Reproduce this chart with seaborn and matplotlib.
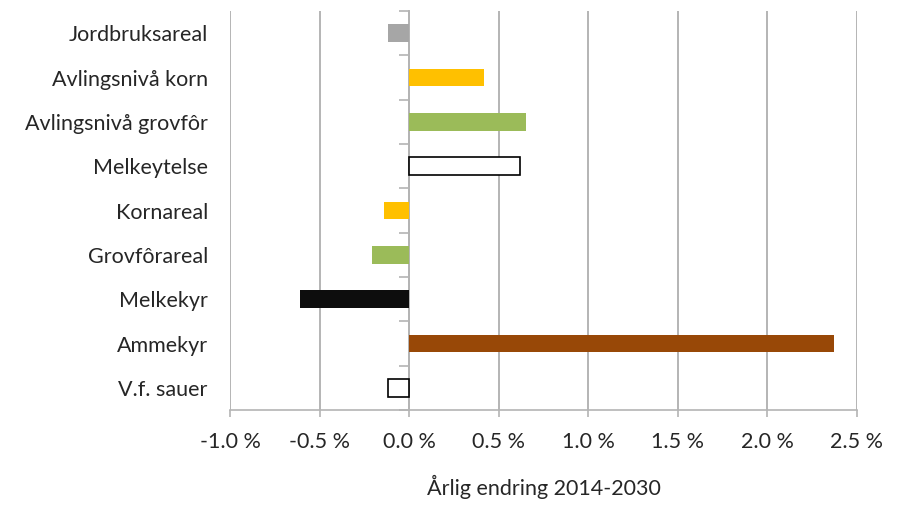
import matplotlib
matplotlib.use("Agg")
import matplotlib.pyplot as plt
import seaborn as sns
import pandas as pd
import numpy as np

categories = ["Jordbruksareal", "Avlingsnivå korn", "Avlingsnivå grovfôr", "Melkeytelse",
              "Kornareal", "Grovfôrareal", "Melkekyr", "Ammekyr", "V.f. sauer"]
values = [-0.12, 0.42, 0.65, 0.62, -0.14, -0.21, -0.61, 2.37, -0.12]
colors = ["#A6A6A6", "#FFC000", "#9BBB59", "#FFFFFF", "#FFC000", "#9BBB59", "#0D0D0D", "#984807", "#FFFFFF"]
outlined = [False, False, False, True, False, False, False, False, True]
xticks = [-1.0, -0.5, 0.0, 0.5, 1.0, 1.5, 2.0, 2.5]
xlabel = "Årlig endring 2014-2030"

sns.set_theme(style="white")
plt.rcParams["font.family"] = ["Lato", "DejaVu Sans"]

df = pd.DataFrame({"kategori": categories, "endring": values})

fig = plt.figure(figsize=(9.02, 5.05), dpi=100)
ax = fig.add_axes([0.255, 0.188, 0.695, 0.790])

sns.barplot(data=df, y="kategori", x="endring", hue="kategori", order=categories,
            palette=dict(zip(categories, colors)), width=0.4, legend=False,
            orient="h", ax=ax, saturation=1)

for patch, cat in zip(ax.patches, categories):
    i = categories.index(cat)
    if outlined[i]:
        patch.set_edgecolor("#000000")
        patch.set_linewidth(1.2)
    else:
        patch.set_edgecolor("none")

fs = 15.5
text_c = "#262626"
grid_c = "#B4B4B4"
ax.set_xlim(-1.0, 2.5)
ax.set_ylim(len(categories) - 0.5, -0.5)
ax.set_xticks(xticks)
ax.set_xticklabels([f"{t:.1f} %" for t in xticks], fontsize=fs, color=text_c)
ax.xaxis.grid(True, color=grid_c, linewidth=1.4)
ax.set_axisbelow(True)
ax.tick_params(axis="x", direction="out", length=5, width=1.2, color=grid_c, pad=11, bottom=True)
ax.tick_params(axis="y", length=0, pad=16, labelsize=fs, labelcolor=text_c)
for s in ["top", "right", "left"]:
    ax.spines[s].set_visible(False)
ax.spines["bottom"].set_color(grid_c)
ax.spines["bottom"].set_linewidth(1.2)
ax.set_ylabel("")
ax.set_xlabel(xlabel, fontsize=fs, color=text_c, labelpad=16)

# vertical axis crossing at zero, with ticks between categories
zero_frac = (0 - ax.get_xlim()[0]) / (ax.get_xlim()[1] - ax.get_xlim()[0])
sec = ax.secondary_yaxis(zero_frac)
sec.set_yticks(np.arange(-0.5, len(categories), 1.0))
sec.set_yticklabels([])
sec.tick_params(axis="y", direction="out", length=7, width=1.2, color=grid_c)
sec.spines["left"].set_color(grid_c)
sec.spines["left"].set_linewidth(1.4)

fig.savefig("out.png", dpi=100, facecolor="white")
